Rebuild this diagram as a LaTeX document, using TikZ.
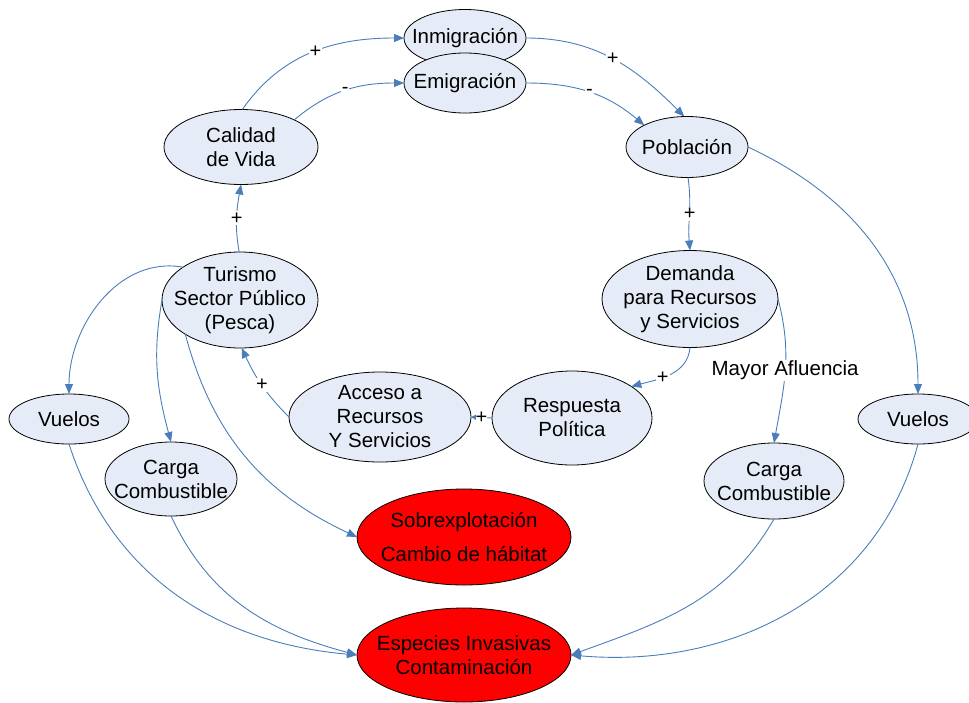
\documentclass[tikz,border=0pt]{standalone}
\usepackage{fontspec}
\setmainfont{Liberation Sans}
\usetikzlibrary{shapes.geometric,arrows.meta}
\definecolor{lineblue}{RGB}{74,126,187}
\definecolor{nodefill}{RGB}{230,236,247}
\definecolor{hot}{RGB}{255,0,0}
\begin{document}
\begin{tikzpicture}[x=1pt,y=-1pt,
  bubble/.style={ellipse,draw=black,line width=0.8pt,fill=nodefill,inner sep=0pt,outer sep=0pt},
  hotbubble/.style={bubble,fill=hot},
  txt/.style={align=center,inner sep=0pt,font=\fontsize{20.5}{24}\selectfont},
  link/.style={draw=lineblue,line width=0.9pt,-{Triangle[length=10pt,width=8pt]}},
  shortlink/.style={draw=lineblue,line width=0.9pt,-{Triangle[length=5pt,width=5pt]}},
  sign/.style={fill=white,inner sep=1pt,font=\fontsize{20}{22}\selectfont},
  flow/.style={fill=white,inner sep=1pt,font=\fontsize{20.5}{24}\selectfont},
]
\useasboundingbox (0,0) rectangle (969,702);

% nodes
\node[bubble,minimum width=122pt,minimum height=57pt,label={[txt]center:Inmigración}] (inm) at (465,38) {};
\node[bubble,minimum width=122pt,minimum height=60pt,label={[txt]center:Emigración}] (emi) at (465,83) {};
\node[bubble,minimum width=154pt,minimum height=75pt,label={[txt]center:Calidad\\de Vida}] (cal) at (241,147) {};
\node[bubble,minimum width=122pt,minimum height=61pt,label={[txt]center:Población}] (pob) at (687,147) {};
\node[bubble,minimum width=156pt,minimum height=96pt,label={[txt]center:Turismo\\Sector Público\\(Pesca)}] (tur) at (240,300) {};
\node[bubble,minimum width=176pt,minimum height=97pt,label={[txt]center:Demanda\\para Recursos\\y Servicios}] (dem) at (690,299) {};
\node[bubble,minimum width=182pt,minimum height=90pt,label={[txt]center:Acceso a\\Recursos\\Y Servicios}] (acc) at (380,417) {};
\node[bubble,minimum width=160pt,minimum height=94pt,label={[txt]center:Respuesta\\Política}] (resp) at (572,418) {};
\node[bubble,minimum width=120pt,minimum height=50pt,label={[txt]center:Vuelos}] (vl) at (69,419) {};
\node[bubble,minimum width=132pt,minimum height=74pt,label={[txt]center:Carga\\Combustible}] (cl) at (171,479) {};
\node[bubble,minimum width=120pt,minimum height=50pt,label={[txt]center:Vuelos}] (vr) at (918,419) {};
\node[bubble,minimum width=140pt,minimum height=76pt,label={[txt]center:Carga\\Combustible}] (cr) at (774,481) {};
\node[hotbubble,minimum width=214pt,minimum height=96pt,label={[txt]center:Sobrexplotación\\[10pt]Cambio de hábitat}] (sob) at (464,537) {};
\node[hotbubble,minimum width=214pt,minimum height=94pt,label={[txt]center:Especies Invasivas\\Contaminación}] (esp) at (464,655) {};

% connectors
\draw[link] (cal.88) to[out=55,in=180] node[sign,pos=0.52]{+} (inm.180);
\draw[link] (cal.27) to[out=40,in=180] node[sign,pos=0.5]{-} (emi.180);
\draw[link] (inm.0) to[out=0,in=135] node[sign,pos=0.5]{+} (pob.95);
\draw[link] (emi.0) to[out=0,in=140] node[sign,pos=0.5]{-} (pob.153);
\draw[link] (pob.-88) to[out=-82,in=95] node[sign,pos=0.5]{+} (dem.90);
\draw[link] (pob.0) to[out=-25,in=90] (vr.90);
\draw[link] (tur.91) to[out=100,in=260] node[sign,pos=0.5]{+} (cal.-90);
\draw[link] (tur.150) to[out=170,in=90] (vl.90);
\draw[link] (tur.180) to[out=-100,in=105] (cl.90);
\draw[link] (tur.212) to[out=-75,in=155] (sob.180);
\draw[link] (acc.180) to[out=135,in=-65] node[sign,pos=0.5]{+} (tur.-88);
\draw[shortlink] (resp.180) -- node[sign,inner sep=0pt]{+} (acc.0);
\draw[link] (dem.-90) to[out=-95,in=15] node[sign,pos=0.6]{+} (resp.28);
\draw[link] (dem.0) to[out=-75,in=80] node[flow,pos=0.5]{Mayor Afluencia} (cr.90);
\draw[link] (vl.-90) to[out=-72,in=175] (esp.180);
\draw[link] (cl.-90) to[out=-65,in=165] (esp.180);
\draw[link] (cr.-90) to[out=-120,in=20] (esp.0);
\draw[link] (vr.-90) to[out=-105,in=-5] (esp.0);
\end{tikzpicture}
\end{document}
